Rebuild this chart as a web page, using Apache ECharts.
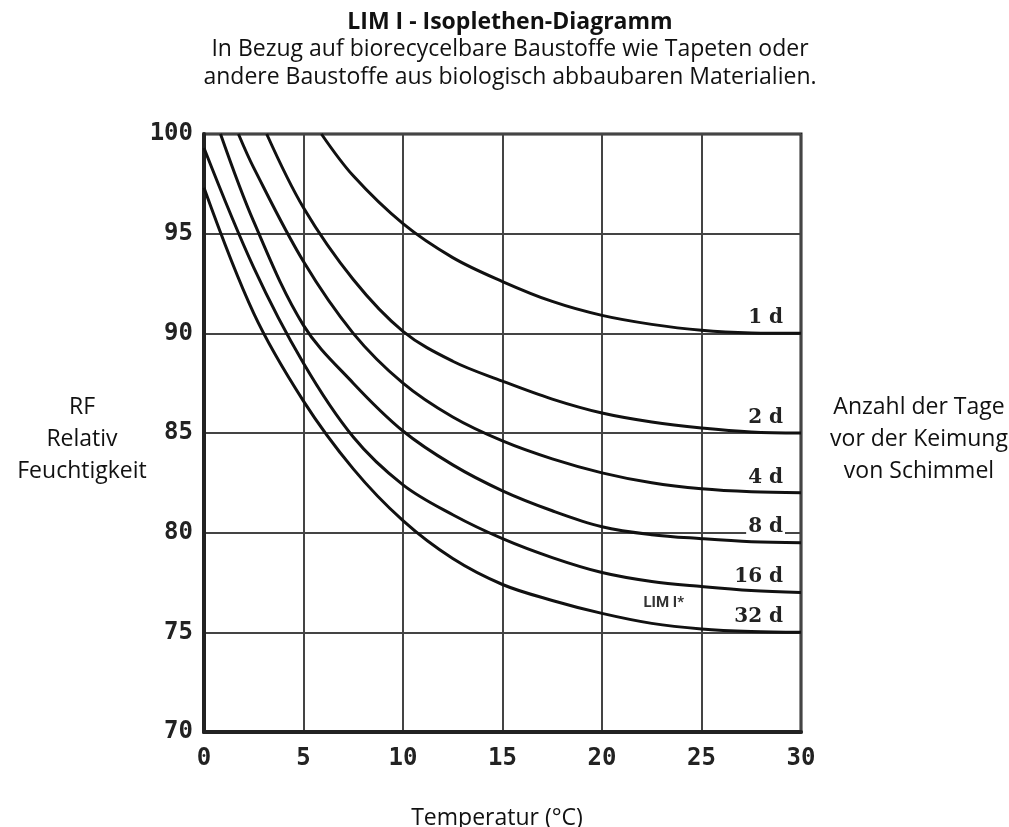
<!DOCTYPE html>
<html>
<head>
<meta charset="utf-8">
<script src="https://cdn.jsdelivr.net/npm/echarts@6/dist/echarts.min.js"></script>
<style>
html,body{margin:0;padding:0;background:#fff;}
#chart{width:1009px;height:827px;}
</style>
</head>
<body>
<div id="chart"></div>
<script>
// ---- Data ----
const xTicks = [0, 5, 10, 15, 20, 25, 30];
const yTicks = [70, 75, 80, 85, 90, 95, 100];
const curveNames = ['1 d', '2 d', '4 d', '8 d', '16 d', '32 d'];
const d1  = [[5.9,100],[7.5,97.9],[10,95.5],[12.5,93.8],[15,92.6],[17.5,91.6],[20,90.9],[22.5,90.45],[25,90.15],[27.5,90.02],[30,90.0]];
const d2  = [[3.15,100],[5,96.3],[7.5,92.7],[10,90.1],[12.5,88.6],[15,87.6],[17.5,86.7],[20,86.0],[22.5,85.55],[25,85.25],[27.5,85.05],[30,85.0]];
const d4  = [[1.73,100],[2.5,98.3],[5,93.6],[7.5,90.0],[10,87.5],[12.5,85.8],[15,84.6],[17.5,83.7],[20,83.0],[22.5,82.5],[25,82.2],[27.5,82.05],[30,82.0]];
const d8  = [[0.83,100],[2.5,95.6],[5,90.4],[7.5,87.5],[10,85.1],[12.5,83.4],[15,82.1],[17.5,81.1],[20,80.3],[22.5,79.9],[25,79.7],[27.5,79.55],[30,79.5]];
const d16 = [[0,99.3],[2.5,93.3],[5,88.5],[7.5,84.8],[10,82.4],[12.5,80.9],[15,79.7],[17.5,78.75],[20,78.0],[22.5,77.55],[25,77.3],[27.5,77.1],[30,77.0]];
const d32 = [[0,97.3],[2.5,91.0],[5,86.6],[7.5,83.2],[10,80.6],[12.5,78.7],[15,77.4],[17.5,76.6],[20,75.95],[22.5,75.45],[25,75.17],[27.5,75.04],[30,75.0]];
const curves = [d1, d2, d4, d8, d16, d32];
const limLabel = { text: 'LIM I*', at: [23.1, 76.45] };

const titleText = 'LIM I - Isoplethen-Diagramm';
const subText = 'In Bezug auf biorecycelbare Baustoffe wie Tapeten oder\nandere Baustoffe aus biologisch abbaubaren Materialien.';
const yName = 'RF\nRelativ\nFeuchtigkeit';
const rightName = 'Anzahl der Tage\nvor der Keimung\nvon Schimmel';
const xName = 'Temperatur (°C)';

// ---- Chart ----
const chart = echarts.init(document.getElementById('chart'), null, {renderer: 'canvas'});
const sansFont = '"Open Sans", Lato, sans-serif';
const tickFont = {fontFamily: '"DejaVu Sans Mono", monospace', fontWeight: 'bold', fontSize: 24, color: '#222'};

const series = curves.map((pts, i) => {
  const last = pts[pts.length - 1];
  const s = {
    type: 'line',
    name: curveNames[i],
    data: pts,
    smooth: 0.35,
    showSymbol: false,
    lineStyle: {color: '#111', width: 3},
    z: 5,
    silent: true,
    markPoint: {
      symbol: 'circle',
      symbolSize: 1,
      itemStyle: {color: 'rgba(0,0,0,0)'},
      silent: true,
      data: [{
        coord: last,
        label: {
          show: true,
          formatter: curveNames[i],
          position: 'top',
          align: 'right',
          distance: 5,
          offset: [-16, 0],
          fontFamily: '"DejaVu Serif", serif',
          fontWeight: 'bold',
          fontSize: 20,
          color: '#222',
          backgroundColor: '#fff',
          padding: [0, 2, 0, 2]
        }
      }]
    }
  };
  if (i === curves.length - 1) {
    s.markPoint.data.push({
      coord: limLabel.at,
      label: {
        show: true,
        formatter: limLabel.text,
        position: 'inside',
        fontFamily: 'Roboto, sans-serif',
        fontWeight: 'bold',
        fontSize: 15,
        color: '#333'
      }
    });
  }
  return s;
});

chart.setOption({
  animation: false,
  backgroundColor: '#fff',
  title: [
    {text: titleText, left: 505, top: 3, textAlign: 'center',
     textStyle: {fontFamily: sansFont, fontWeight: 'bold', fontSize: 23, lineHeight: 28, color: '#111'}},
    {text: subText, left: 505, top: 30, textAlign: 'center',
     textStyle: {fontFamily: sansFont, fontWeight: 'normal', fontSize: 23, lineHeight: 28, color: '#111', align: 'center'}},
    {text: yName, left: 77, top: 386, textAlign: 'center',
     textStyle: {fontFamily: sansFont, fontWeight: 'normal', fontSize: 23, lineHeight: 32, color: '#111', align: 'center'}},
    {text: rightName, left: 914, top: 386, textAlign: 'center',
     textStyle: {fontFamily: sansFont, fontWeight: 'normal', fontSize: 23, lineHeight: 32, color: '#111', align: 'center'}},
    {text: xName, left: 492, top: 799, textAlign: 'center',
     textStyle: {fontFamily: sansFont, fontWeight: 'normal', fontSize: 23, lineHeight: 28, color: '#111'}}
  ],
  grid: {left: 204, right: 208, top: 134, bottom: 95, show: true, borderColor: '#222', borderWidth: 3, backgroundColor: 'transparent'},
  xAxis: {
    type: 'value', min: xTicks[0], max: xTicks[xTicks.length - 1], interval: xTicks[1] - xTicks[0],
    axisLine: {show: true, lineStyle: {color: '#222', width: 4}},
    axisTick: {show: false},
    splitLine: {show: true, lineStyle: {color: '#444', width: 2}},
    axisLabel: Object.assign({margin: 15}, tickFont)
  },
  yAxis: {
    type: 'value', min: yTicks[0], max: yTicks[yTicks.length - 1], interval: yTicks[1] - yTicks[0],
    axisLine: {show: true, lineStyle: {color: '#222', width: 4}},
    axisTick: {show: false},
    splitLine: {show: true, lineStyle: {color: '#444', width: 2}},
    axisLabel: Object.assign({margin: 11}, tickFont)
  },
  series: series
});
</script>
</body>
</html>
